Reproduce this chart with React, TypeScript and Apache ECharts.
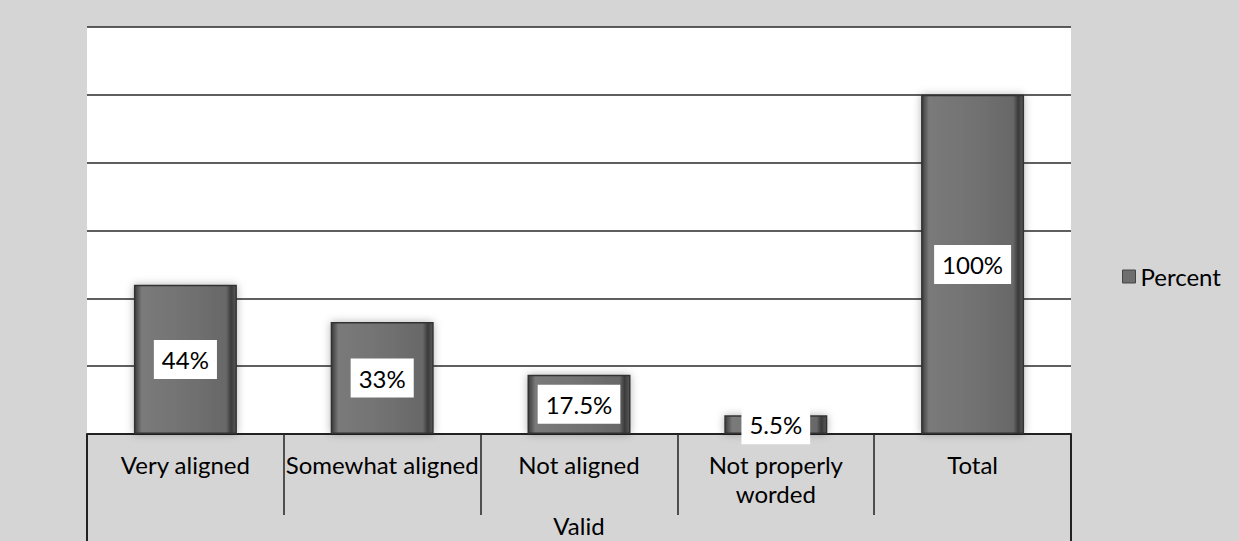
import React, { useEffect, useRef } from "react";
import * as echarts from "echarts";

const categories = ["Very aligned", "Somewhat aligned", "Not aligned", "Not properly\nworded", "Total"];
const percentValues = [44, 33, 17.5, 5.5, 100];
const seriesName = "Percent";
const axisTitle = "Valid";
const yMin = 0;
const yMax = 120;
const yInterval = 20;

const FONT = "Lato, 'Noto Sans', sans-serif";

export default function App() {
  const ref = useRef<HTMLDivElement>(null);
  useEffect(() => {
    if (!ref.current) return;
    const chart = echarts.init(ref.current, undefined, { renderer: "svg" });
    const barFill = new echarts.graphic.LinearGradient(0, 0, 1, 0, [
      { offset: 0, color: "#3c3c3c" },
      { offset: 0.07, color: "#7a7a7a" },
      { offset: 0.5, color: "#727272" },
      { offset: 0.9, color: "#686868" },
      { offset: 0.95, color: "#3a3a3a" },
      { offset: 1, color: "#5a5a5a" },
    ]);
    chart.setOption({
      animation: false,
      backgroundColor: "#d5d5d5",
      textStyle: { fontFamily: FONT },
      grid: {
        left: 87,
        right: 168,
        top: 27,
        bottom: 107,
        show: true,
        backgroundColor: "#ffffff",
        borderWidth: 0,
        containLabel: false,
        outerBoundsMode: "none",
      },
      legend: {
        data: [seriesName],
        left: 1117,
        top: 257,
        icon: "rect",
        itemWidth: 13,
        itemHeight: 13,
        itemStyle: { color: "#6e6e6e", borderColor: "#444", borderWidth: 1 },
        textStyle: { fontSize: 24, color: "#000", fontFamily: FONT, lineHeight: 29 },
      },
      xAxis: [
        {
          type: "category",
          data: categories,
          position: "bottom",
          axisLine: { show: true, lineStyle: { color: "#222", width: 2 } },
          axisTick: { show: true, interval: 0, length: 81, lineStyle: { color: "#222", width: 1.5 } },
          axisLabel: {
            interval: 0,
            margin: 16,
            fontSize: 24,
            lineHeight: 29,
            color: "#000",
            fontFamily: FONT,
          },
          name: axisTitle,
          nameLocation: "middle",
          nameGap: 77,
          nameTextStyle: { fontSize: 24, lineHeight: 26, color: "#000", fontFamily: FONT },
        },
        {
          type: "category",
          data: [""],
          position: "bottom",
          axisLine: { show: false },
          axisTick: { show: true, interval: 0, length: 107, lineStyle: { color: "#222", width: 2 } },
          axisLabel: { show: false },
        },
      ],
      yAxis: {
        type: "value",
        min: yMin,
        max: yMax,
        interval: yInterval,
        axisLabel: { show: false },
        axisLine: { show: false },
        axisTick: { show: false },
        splitLine: { show: true, lineStyle: { color: "#2a2a2a", width: 1.5 } },
      },
      series: [
        {
          name: seriesName,
          type: "bar",
          xAxisIndex: 0,
          data: percentValues,
          barWidth: 103,
          itemStyle: {
            color: barFill,
            borderColor: "#333",
            borderWidth: 1.5,
            shadowColor: "rgba(0,0,0,0.3)",
            shadowBlur: 8,
          },
          label: {
            show: true,
            position: "inside",
            formatter: (p: any) => p.value + "%",
            backgroundColor: "#ffffff",
            padding: [5, 8],
            fontSize: 24,
            lineHeight: 29,
            color: "#000",
            fontFamily: FONT,
          },
        },
      ],
    });
    return () => chart.dispose();
  }, []);
  return <div ref={ref} style={{ width: 1239, height: 541, position: "absolute", left: 0, top: 0 }} />;
}
